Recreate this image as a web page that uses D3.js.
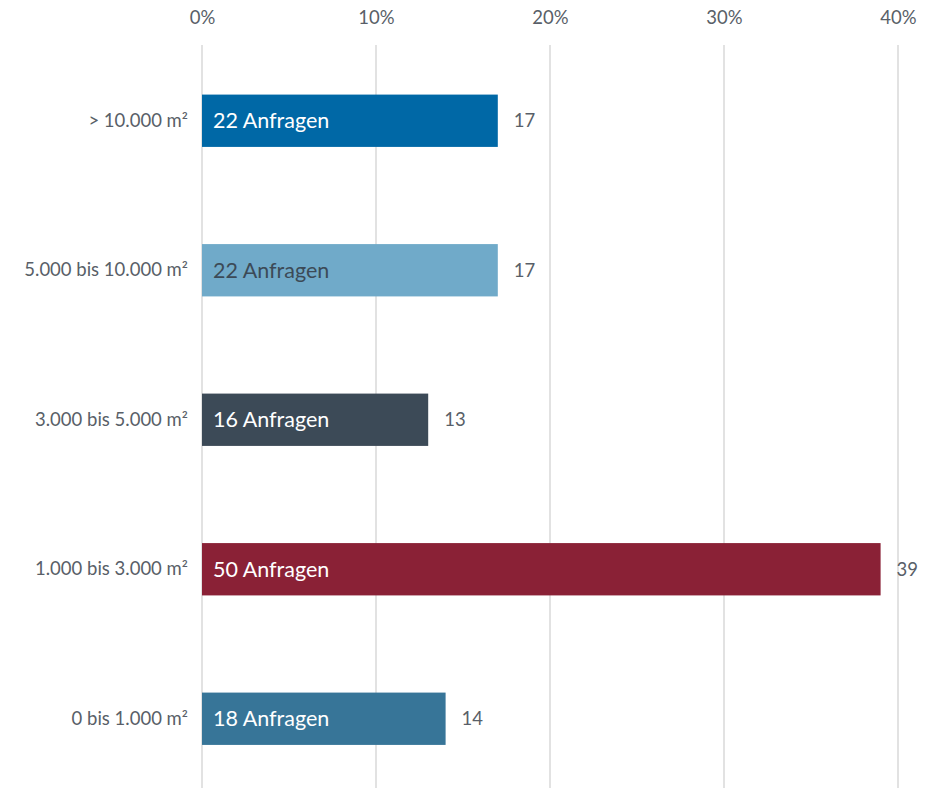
<!DOCTYPE html>
<html>
<head>
<meta charset="utf-8">
<script src="https://cdn.jsdelivr.net/npm/d3@7"></script>
<style>
  body { margin: 0; background: #fff; }
  svg { display: block; font-family: Lato, "Open Sans", sans-serif; }
</style>
</head>
<body>
<div id="chart"></div>
<script>
var categories = ["> 10.000 m²", "5.000 bis 10.000 m²", "3.000 bis 5.000 m²", "1.000 bis 3.000 m²", "0 bis 1.000 m²"]
var percents = [17, 17, 13, 39, 14]
var requests = [22, 22, 16, 50, 18]
var colors = ["#0068a6", "#70aac9", "#3c4a57", "#8a2136", "#377598"]
var labelColors = ["#ffffff", "#3c4a57", "#ffffff", "#ffffff", "#ffffff"]
var ticks = [0, 10, 20, 30, 40]

var width = 936
var height = 788

var svg = d3.select("#chart").append("svg")
  .attr("width", width)
  .attr("height", height)

var x = d3.scaleLinear().domain([0, 40]).range([202, 898])
var y = d3.scaleBand().domain(categories).range([46, 793.5])
  .paddingInner(0.65).paddingOuter(0.325)

var data = categories.map(function(c, i) {
  return { cat: c, pct: percents[i], req: requests[i], color: colors[i], lc: labelColors[i] }
})

// gridlines
svg.append("g")
  .selectAll("line")
  .data(ticks)
  .enter().append("line")
  .attr("x1", function(d) { return x(d) })
  .attr("x2", function(d) { return x(d) })
  .attr("y1", 45)
  .attr("y2", height)
  .attr("stroke", "#d9d9d9")
  .attr("stroke-width", 1.5)

// top axis
var axis = d3.axisTop(x).tickValues(ticks).tickSize(0).tickFormat(function(d) { return d + "%" })
var ax = svg.append("g").attr("transform", "translate(0,18)").call(axis)
ax.select(".domain").remove()
ax.selectAll("text")
  .attr("dy", "0.35em")
  .attr("y", 0)
  .style("font-size", "18.5px")
  .style("fill", "#595f68")
  .style("font-family", "Lato, 'Open Sans', sans-serif")

// category labels
var ay = d3.axisLeft(y).tickSize(0).tickPadding(14)
var axl = svg.append("g").attr("transform", "translate(202,0)").call(ay)
axl.select(".domain").remove()
axl.selectAll("text")
  .style("font-size", "18.5px")
  .style("fill", "#595f68")
  .style("font-family", "Lato, 'Open Sans', sans-serif")

// bars
svg.append("g")
  .selectAll("rect")
  .data(data)
  .enter().append("rect")
  .attr("x", x(0))
  .attr("y", function(d) { return y(d.cat) })
  .attr("width", function(d) { return x(d.pct) - x(0) })
  .attr("height", y.bandwidth())
  .attr("fill", function(d) { return d.color })

// inside labels
svg.append("g")
  .selectAll("text")
  .data(data)
  .enter().append("text")
  .attr("x", x(0) + 11)
  .attr("y", function(d) { return y(d.cat) + y.bandwidth() / 2 })
  .attr("dy", "0.35em")
  .style("font-size", "21.5px")
  .style("fill", function(d) { return d.lc })
  .text(function(d) { return d.req + " Anfragen" })

// value labels
svg.append("g")
  .selectAll("text")
  .data(data)
  .enter().append("text")
  .attr("x", function(d) { return x(d.pct) + 16 })
  .attr("y", function(d) { return y(d.cat) + y.bandwidth() / 2 })
  .attr("dy", "0.35em")
  .style("font-size", "18.5px")
  .style("fill", "#595f68")
  .text(function(d) { return d.pct })
</script>
</body>
</html>
